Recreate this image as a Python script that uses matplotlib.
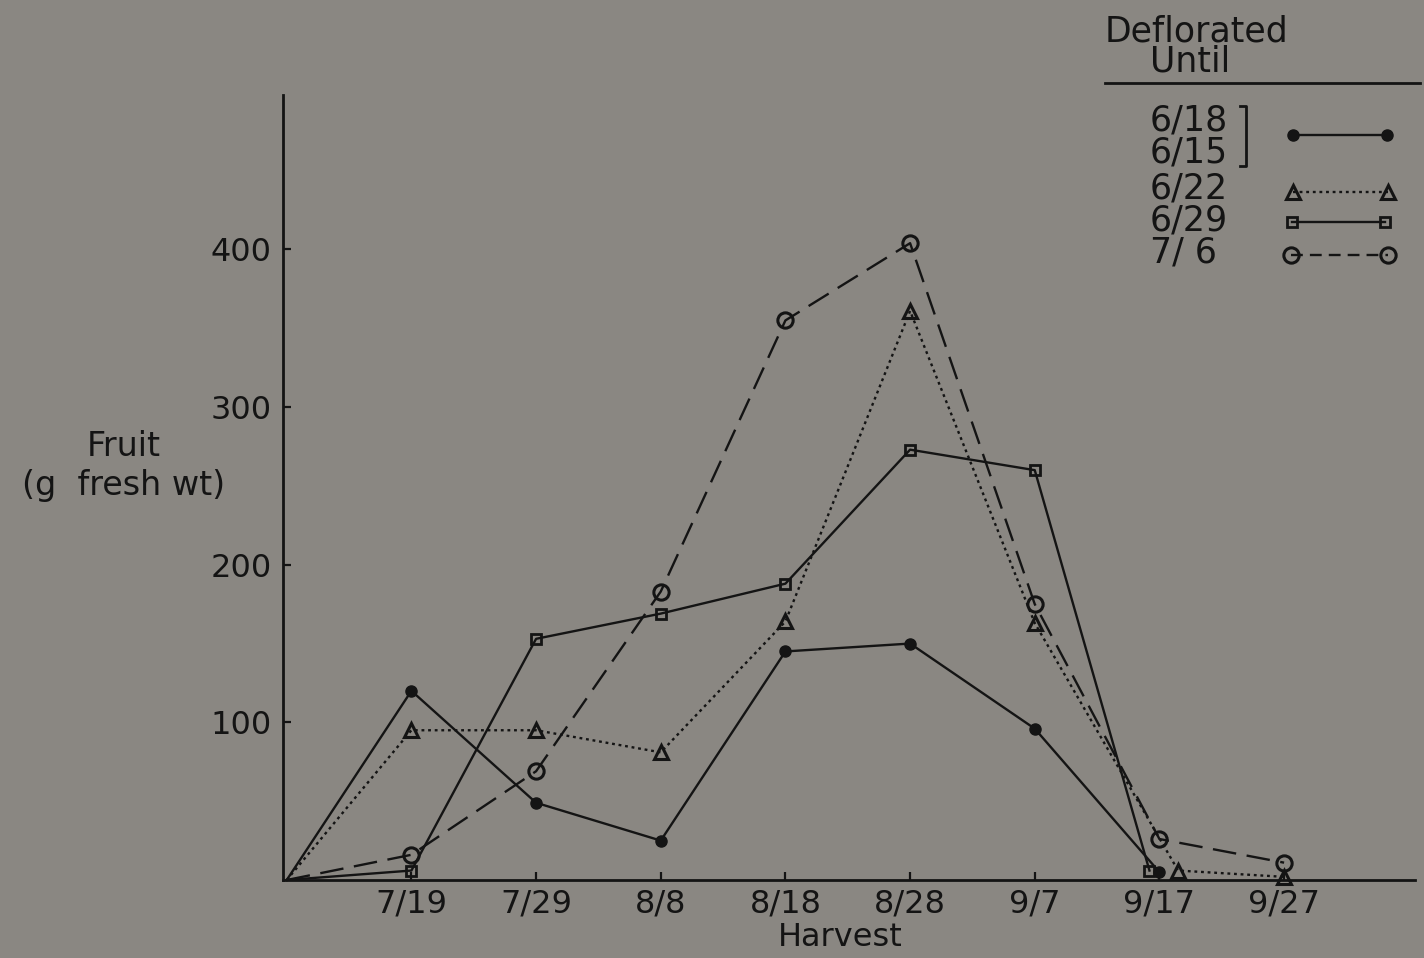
import matplotlib
matplotlib.use("Agg")
import matplotlib.pyplot as plt
from matplotlib.lines import Line2D

# harvest dates, days after 7/9
harvest_labels = ['7/19', '7/29', '8/8', '8/18', '8/28', '9/7', '9/17', '9/27']
harvest_days = [10, 20, 30, 40, 50, 60, 70, 80]

# fruit fresh weight (g) per harvest, by deflowering date
d618_days = [0, 10, 20, 30, 40, 50, 60, 70]
d618_fruit = [0, 120, 49, 25, 145, 150, 96, 5]

d622_days = [0, 10, 20, 30, 40, 50, 60, 71.5, 80]
d622_fruit = [0, 95, 95, 81, 164, 361, 163, 6, 2]

d629_days = [0, 10, 20, 30, 40, 50, 60, 69.2]
d629_fruit = [0, 6, 153, 169, 188, 273, 260, 6]

d706_days = [0, 10, 20, 30, 40, 50, 60, 70, 80]
d706_fruit = [0, 16, 69, 183, 355, 404, 175, 26, 11]

legend_labels = ['6/18', '6/15', '6/22', '6/29', '7/ 6']

BG = '#8a8782'
INK = '#141414'
W, H = 1424, 958

plt.rcParams['font.family'] = 'DejaVu Sans'

fig = plt.figure(figsize=(W / 100, H / 100), dpi=100, facecolor=BG)


def fx(px):
    return px / W


def fy(py):
    return 1 - py / H


ax = fig.add_axes([fx(283), fy(880), (1415 - 283) / W, (880 - 95) / H])
ax.set_facecolor(BG)
ax.set_xlim(-0.3, 90.5)
ax.set_ylim(0, 498)
for s in ['top', 'right']:
    ax.spines[s].set_visible(False)
for s in ['left', 'bottom']:
    ax.spines[s].set_linewidth(2.0)
    ax.spines[s].set_color(INK)

lw = 1.7
ax.plot(d618_days, d618_fruit, color=INK, lw=lw, marker='o', ms=8,
        mfc=INK, mec=INK, clip_on=False, markevery=list(range(1, len(d618_days))))
ax.plot(d622_days, d622_fruit, color=INK, lw=lw, ls=(0, (1.2, 1.6)), marker='^', ms=10,
        mfc='none', mec=INK, mew=2.2, clip_on=False,
        markevery=list(range(1, len(d622_days))))
ax.plot(d629_days, d629_fruit, color=INK, lw=lw, marker='s', ms=7,
        mfc='none', mec=INK, mew=2.0, clip_on=False,
        markevery=list(range(1, len(d629_days))))
ax.plot(d706_days, d706_fruit, color=INK, lw=lw, ls=(0, (10, 4.5)), marker='o', ms=11,
        mfc='none', mec=INK, mew=2.2, clip_on=False,
        markevery=list(range(1, len(d706_days))))

ax.set_xticks(harvest_days)
ax.set_xticklabels(harvest_labels)
ax.set_yticks([100, 200, 300, 400])
ax.tick_params(direction='in', length=6, width=1.6, color=INK, labelcolor=INK,
               labelsize=23, pad=8)
ax.tick_params(axis='x', pad=6)

fig.text(fx(840), fy(938), 'Harvest', ha='center', va='center', fontsize=23, color=INK)
fig.text(fx(124), fy(466), 'Fruit\n(g  fresh wt)', ha='center', va='center',
         fontsize=24, color=INK, linespacing=1.2)

# key in the upper right corner
fig.text(fx(1105), fy(31), 'Deflorated', ha='left', va='center', fontsize=25, color=INK)
fig.text(fx(1150), fy(62), 'Until', ha='left', va='center', fontsize=25, color=INK)
fig.add_artist(Line2D([fx(1105), fx(1420)], [fy(83), fy(83)], color=INK, lw=2.0))

rows_y = [120, 152, 188, 220, 252]
for lab, y in zip(legend_labels, rows_y):
    fig.text(fx(1150), fy(y), lab, ha='left', va='center', fontsize=25, color=INK)
fig.add_artist(Line2D([fx(1240), fx(1246), fx(1246), fx(1240)],
                      [fy(106), fy(106), fy(166), fy(166)], color=INK, lw=2.0))

fig.add_artist(Line2D([fx(1293), fx(1387)], [fy(135), fy(135)], color=INK, lw=lw,
                      marker='o', ms=8, mfc=INK, mec=INK))
fig.add_artist(Line2D([fx(1293), fx(1388)], [fy(192), fy(192)], color=INK, lw=lw,
                      ls=(0, (1.2, 1.6)), marker='^', ms=10, mfc='none', mec=INK, mew=2.2))
fig.add_artist(Line2D([fx(1292), fx(1385)], [fy(222), fy(222)], color=INK, lw=lw,
                      marker='s', ms=7, mfc='none', mec=INK, mew=2.0))
fig.add_artist(Line2D([fx(1291), fx(1388)], [fy(255), fy(255)], color=INK, lw=lw,
                      ls=(0, (5, 3)), marker='o', ms=11, mfc='none', mec=INK, mew=2.2))

fig.savefig('out.png', dpi=100, facecolor=BG)
